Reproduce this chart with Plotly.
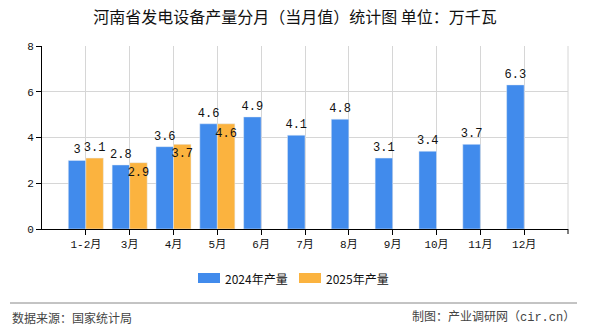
import plotly.graph_objects as go

# Monthly output of power generation equipment in Henan (unit: 10k kW)
months = ["1-2月", "3月", "4月", "5月", "6月", "7月", "8月", "9月", "10月", "11月", "12月"]
output_2024 = [3, 2.8, 3.6, 4.6, 4.9, 4.1, 4.8, 3.1, 3.4, 3.7, 6.3]
output_2025 = [3.1, 2.9, 3.7, 4.6, None, None, None, None, None, None, None]
label_pos_2025 = ["outside", "inside", "inside", "inside"] + ["outside"] * 7

series_names = ["2024年产量", "2025年产量"]
colors = ["#418BEC", "#FBB33F"]
y_ticks = [0, 2, 4, 6, 8]

label_font = dict(family="Liberation Mono, DejaVu Sans Mono, monospace", size=12, color="#111")
cjk = "Noto Sans CJK SC"
mixed = "Liberation Mono, Noto Sans CJK SC"

fig = go.Figure()
fig.add_trace(go.Bar(
    x=months, y=output_2024, name=series_names[0], marker_color=colors[0],
    text=[f"{v:g}" for v in output_2024], textposition="outside", textangle=0,
    textfont=label_font, cliponaxis=False, constraintext="none",
))
fig.add_trace(go.Bar(
    x=months, y=output_2025, name=series_names[1], marker_color=colors[1],
    text=[f"{v:g}" if v is not None else "" for v in output_2025],
    textposition=label_pos_2025, insidetextanchor="end", textangle=0,
    textfont=label_font, insidetextfont=label_font, outsidetextfont=label_font,
    cliponaxis=False, constraintext="none",
))

fig.update_layout(
    width=590, height=330,
    margin=dict(l=42, r=22, t=46, b=101),
    paper_bgcolor="white", plot_bgcolor="white",
    barmode="group", bargap=0.2, bargroupgap=0,
    showlegend=False,
    font=dict(family=cjk, size=11, color="#222"),
    title=dict(text="河南省发电设备产量分月（当月值）统计图 单位：万千瓦",
               x=0.5, xanchor="center", y=1 - 17 / 330, yanchor="middle",
               font=dict(family=cjk, size=16, color="#111")),
)

fig.update_xaxes(
    type="category", range=[-1, 11],
    showgrid=True, gridcolor="#D6D6D6", gridwidth=1,
    showline=True, linecolor="#000", linewidth=1,
    ticks="outside", ticklen=5, tickcolor="#000",
    tickfont=dict(family=mixed, size=11, color="#111"),
)
fig.update_yaxes(
    range=[0, 8], tickvals=y_ticks,
    showgrid=True, gridcolor="#D6D6D6", gridwidth=1,
    showline=True, linecolor="#000", linewidth=1,
    ticks="outside", ticklen=5, tickcolor="#000",
    tickfont=dict(family="Liberation Mono, DejaVu Sans Mono, monospace", size=11, color="#111"),
    zeroline=False,
)

# right border of the plot area and its closing tick
fig.add_shape(type="line", xref="paper", yref="paper", x0=1, x1=1, y0=0, y1=1,
              line=dict(color="#D6D6D6", width=1))
fig.add_shape(type="line", xref="paper", yref="paper", x0=1, x1=1, y0=0, y1=-5 / 183,
              line=dict(color="#000", width=1))

# legend drawn as wide swatches below the plot
def px_x(p):
    return (p - 42) / 526

def px_y(p):
    return (229 - p) / 183

legend_items = [(198, 223), (299, 324)]
for (sx, tx), name, col in zip(legend_items, series_names, colors):
    fig.add_shape(type="rect", xref="paper", yref="paper",
                  x0=px_x(sx), x1=px_x(sx + 22), y0=px_y(283), y1=px_y(273),
                  fillcolor=col, line=dict(width=0))
    fig.add_annotation(xref="paper", yref="paper", x=px_x(tx), y=px_y(278),
                       xanchor="left", yanchor="middle", showarrow=False,
                       text=name, font=dict(family=cjk, size=12, color="#111"))

# footer separator and source notes
fig.add_shape(type="line", xref="paper", yref="paper",
              x0=px_x(10), x1=px_x(577), y0=px_y(303), y1=px_y(303),
              line=dict(color="#888", width=1))
fig.add_annotation(xref="paper", yref="paper", x=px_x(10), y=px_y(317),
                   xanchor="left", yanchor="middle", showarrow=False,
                   text="数据来源：国家统计局", font=dict(family=cjk, size=12, color="#444"))
fig.add_annotation(xref="paper", yref="paper", x=px_x(577), y=px_y(317),
                   xanchor="right", yanchor="middle", showarrow=False,
                   text="制图：产业调研网（cir.cn）", font=dict(family=mixed, size=12, color="#444"))

fig.write_html("out.html")
